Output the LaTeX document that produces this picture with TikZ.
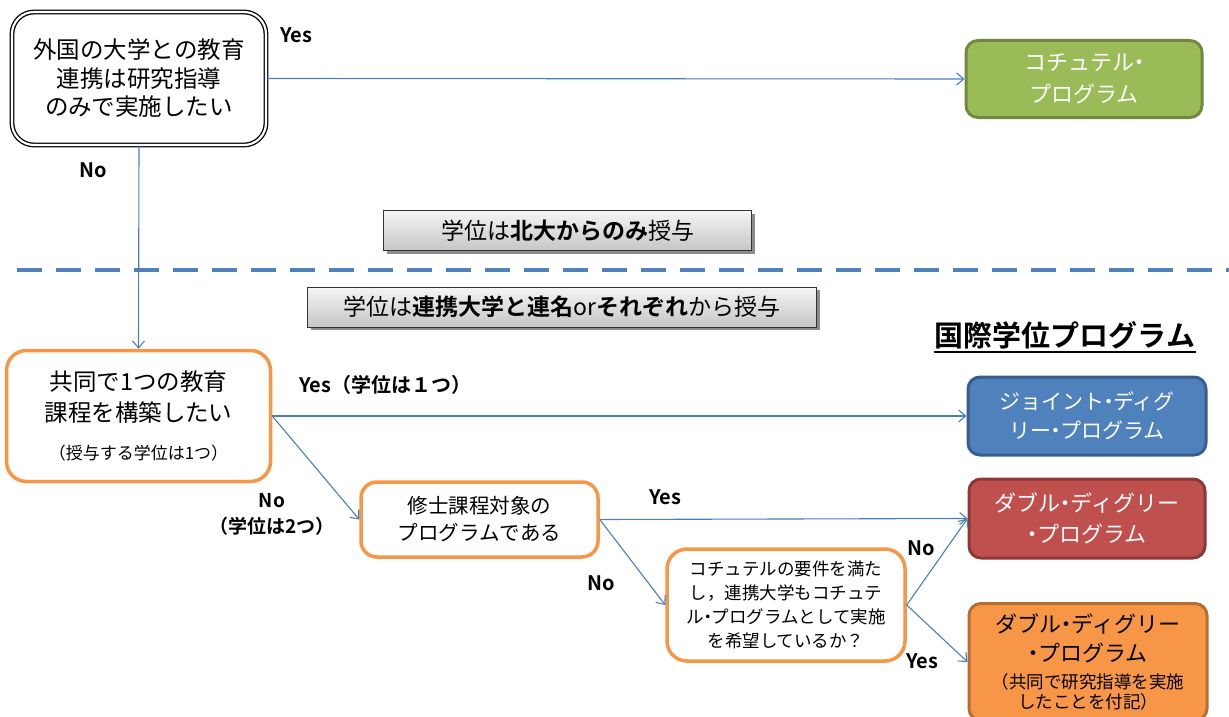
\documentclass[tikz,border=0pt]{standalone}
\usepackage{fontspec}
\setmainfont{Noto Sans CJK JP}[BoldFont={Noto Sans CJK JP Bold}]
\usetikzlibrary{arrows.meta,shadows}
\definecolor{arrowblue}{HTML}{4A7EBB}
\definecolor{dashblue}{HTML}{4F81BD}
\definecolor{gfill}{HTML}{9BBB59}
\definecolor{gline}{HTML}{71893F}
\definecolor{bfill}{HTML}{4F81BD}
\definecolor{bline}{HTML}{385D8A}
\definecolor{rfill}{HTML}{C0504D}
\definecolor{rline}{HTML}{8C3836}
\definecolor{ofill}{HTML}{F79646}
\definecolor{oline}{HTML}{B66D31}
\newcommand{\fs}[2]{\fontsize{#1}{#2}\selectfont}
\newcommand{\nk}{\kern-0.28em・\kern-0.28em}
\tikzset{
  x=1pt, y=-1pt,
  conn/.style={draw=arrowblue, line width=1.1pt, -{Straight Barb[length=7pt,width=12pt,line width=1.1pt]}},
  qbox/.style={draw=ofill, line width=3.5pt, fill=white, rounded corners=20pt, align=center, inner sep=0pt},
  resbox/.style={line width=3pt, rounded corners=12pt, align=center, inner sep=0pt, text=white},
  graybox/.style={draw=black!80, line width=1pt, top color=gray!8, bottom color=gray!45, align=center, inner sep=0pt,
     drop shadow={shadow xshift=3pt, shadow yshift=-3pt, opacity=0.45, fill=black}},
  lab/.style={font=\bfseries\fs{20}{24}, align=center, inner sep=0pt},
}
\begin{document}
\begin{tikzpicture}
\clip (0,0) rectangle (1229,717);
\useasboundingbox (0,0) rectangle (1229,717);

% top question
\node[draw=black, line width=1.3pt, double=white, double distance=2.2pt, rounded corners=22pt,
      minimum width=254pt, minimum height=133pt, align=center, inner sep=0pt,
      font=\fs{23.5}{28.5}] (q1) at (139,78.5) {外国の大学との教育\\連携は研究指導\\のみで実施したい};

\node[resbox, draw=gline, fill=gfill, minimum width=236pt, minimum height=77pt, font=\fs{22}{32}]
  (cot) at (1084,79) {コチュテル\nk\\プログラム};

\node[graybox, minimum width=368pt, minimum height=40pt, font=\fs{23}{28}]
  (g1) at (567.5,230.5) {学位は\textbf{北大からのみ}授与};

\draw[dashblue, line width=3.5pt, dash pattern=on 25pt off 14pt] (17,270) -- (1229,270);

\node[graybox, minimum width=509pt, minimum height=40pt, font=\fs{23}{28}]
  (g2) at (562,307) {学位は\textbf{連携大学と連名}or\textbf{それぞれ}から授与};

\node[font=\bfseries\fs{29}{34}, inner sep=0pt] (title) at (1065,335) {国際学位プログラム};
\draw[line width=2pt] ([xshift=-1pt,yshift=-3pt]title.south west) coordinate (ul1) -- ([xshift=1pt,yshift=-3pt]title.south east) coordinate (ul2);

\node[qbox, minimum width=264pt, minimum height=131pt, font=\fs{23.5}{31}] (q2) at (138.5,416)
  {共同で1つの教育\\課程を構築したい\\[7pt]{\fs{17}{20}（授与する学位は1つ）}};

\node[resbox, draw=bline, fill=bfill, minimum width=238pt, minimum height=78pt, font=\fs{21}{29}]
  (jd) at (1087,416) {ジョイント\nk ディグ\\リー\nk プログラム};

\node[qbox, minimum width=237pt, minimum height=75pt, rounded corners=16pt, font=\fs{20.5}{27}]
  (q3) at (479.5,519.5) {修士課程対象の\\プログラムである};

\node[resbox, draw=rline, fill=rfill, minimum width=236pt, minimum height=79pt, font=\fs{22}{31}]
  (dd) at (1087,518.5) {ダブル\nk ディグリー\\\nk プログラム};

\node[qbox, minimum width=238pt, minimum height=112pt, rounded corners=20pt, font=\fs{17.5}{24}]
  (q4) at (786,605) {コチュテルの要件を満た\\し，連携大学もコチュテ\\ル\nk プログラムとして実施\\を希望しているか？};

\node[resbox, draw=oline, fill=ofill, text=black, minimum width=238pt, minimum height=117pt, font=\fs{22}{29}]
  (ddj) at (1088,662) {ダブル\nk ディグリー\\\nk プログラム\\[-2pt]{\fs{17.5}{20}（共同で研究指導を実施}\\[-9pt]{\fs{17.5}{20}したことを付記）}};

% connectors
\draw[conn] (q1.east) -- (cot.west);
\draw[conn] (q1.south) -- (q2.north);
\draw[conn] (q2.east) -- (jd.west);
\draw[conn] (q2.east) -- (q3.west);
\draw[conn] (q3.east) -- (dd.west);
\draw[conn] (q3.east) -- (q4.west);
\draw[conn] (q4.east) -- (dd.west);
\draw[conn] (q4.east) -- (ddj.west);

% labels
\node[lab] (l1) at (296,35) {Yes};
\node[lab] (l2) at (93,170) {No};
\node[lab] (l3) at (385,385) {Yes（学位は１つ）};
\node[lab, font=\bfseries\fs{19}{26}] (l4) at (272,514) {No\\（学位は2つ）};
\node[lab] (l5) at (665,497) {Yes};
\node[lab] (l6) at (601,583) {No};
\node[lab] (l7) at (921,548) {No};
\node[lab] (l8) at (922,661) {Yes};
\end{tikzpicture}
\end{document}
